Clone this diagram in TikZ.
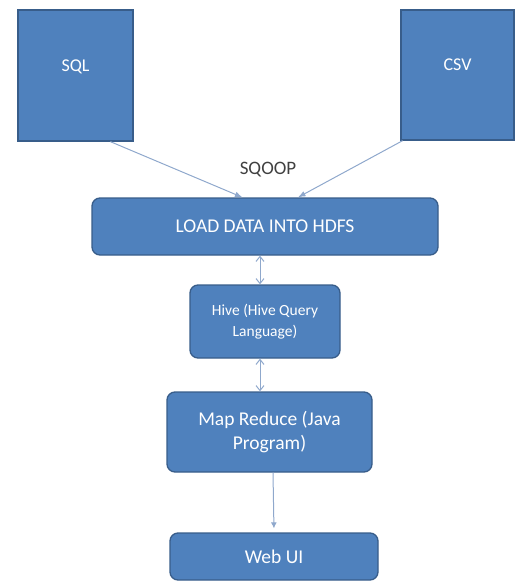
\documentclass[tikz,border=0pt]{standalone}
\usepackage{fontspec}
\setmainfont{Carlito}
\usetikzlibrary{arrows.meta,calc,positioning}
\definecolor{boxfill}{HTML}{4F81BD}
\definecolor{boxline}{HTML}{385D8A}
\definecolor{linkcol}{HTML}{8FA8CC}
\definecolor{labelcol}{HTML}{404040}

\begin{document}
\begin{tikzpicture}[>=Latex, x=1pt, y=-1pt,
  box/.style={draw=boxline, fill=boxfill, line width=1.3pt, text=white,
    font=\fontsize{19.5}{24.5}\selectfont, align=center, inner sep=0pt},
  rbox/.style={box, rounded corners=8pt},
  link/.style={draw=linkcol, line width=1pt}]
  \useasboundingbox (0,0) rectangle (515,581);

  % Sources
  \node[box, minimum width=115pt, minimum height=131pt, font=\fontsize{18}{22}\selectfont, text height=10pt, text depth=19pt] (sql) at (75.5,75.5) {SQL};
  \node[box, minimum width=113pt, minimum height=130pt, font=\fontsize{18}{22}\selectfont, text height=10pt, text depth=19pt] (csv) at (457.5,75) {CSV};

  % Processing chain
  \node[rbox, minimum width=346pt, minimum height=57pt] (load) at (265,226.5) {LOAD DATA INTO HDFS};
  \node[rbox, minimum width=150pt, minimum height=73pt, font=\fontsize{15.5}{21}\selectfont] (hive) at (265,321.5) {Hive (Hive Query\\Language)};
  \node[rbox, minimum width=205pt, minimum height=80pt] (mapred) at (269.5,432) {Map Reduce (Java\\Program)};
  \node[rbox, minimum width=208pt, minimum height=47pt] (webui) at (274,556.5) {Web UI};

  % Import
  \draw[link, ->] ($(sql.south west)!0.8!(sql.south east)$) -- ($(load.north west)!0.435!(load.north east)$);
  \draw[link, ->] ($(csv.south west)!0.02!(csv.south east)$) -- ($(load.north west)!0.595!(load.north east)$);
  \node[text=labelcol, font=\fontsize{19}{22}\selectfont] (sqoop) at (268,170) {SQOOP};

  % Query path
  \draw[link, {Straight Barb[length=5pt,width=8pt]}-{Straight Barb[length=5pt,width=8pt]}] ([xshift=-5pt]load.south) -- ([xshift=-5pt]hive.north);
  \draw[link, {Straight Barb[length=5pt,width=8pt]}-{Straight Barb[length=5pt,width=8pt]}] ([xshift=-5pt]hive.south) -- ([xshift=-9.5pt]mapred.north);
  \draw[link, -{Latex[length=6pt,width=6pt]}, shorten >=4pt] ([xshift=3.5pt]mapred.south) -- (webui.north);
\end{tikzpicture}
\end{document}
